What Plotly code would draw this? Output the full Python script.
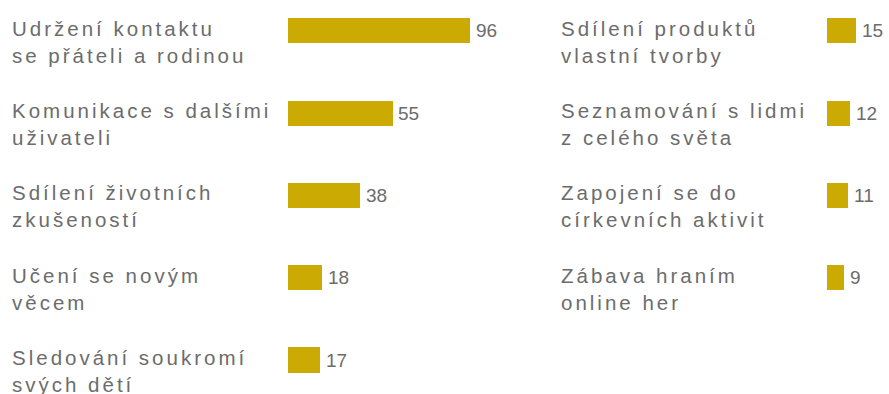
import plotly.graph_objects as go

# Survey answers, left column (top to bottom)
left_labels = [
    "Udržení kontaktu<br>se přáteli a rodinou",
    "Komunikace s dalšími<br>uživateli",
    "Sdílení životních<br>zkušeností",
    "Učení se novým<br>věcem",
    "Sledování soukromí<br>svých dětí",
]
left_values = [96, 55, 38, 18, 17]

# Survey answers, right column (top to bottom)
right_labels = [
    "Sdílení produktů<br>vlastní tvorby",
    "Seznamování s lidmi<br>z celého světa",
    "Zapojení se do<br>církevních aktivit",
    "Zábava hraním<br>online her",
]
right_values = [15, 12, 11, 9]

W, H = 889, 394
BAR_COLOR = "#CBAA04"
LABEL_COLOR = "#6c6c6c"
VALUE_COLOR = "#6c6c6c"
LABEL_FONT = "Liberation Sans, Arial, sans-serif"

left_rows = list(range(len(left_values)))
right_rows = list(range(len(right_values)))

fig = go.Figure()
fig.add_trace(go.Bar(
    x=left_values, y=left_rows, orientation="h",
    marker=dict(color=BAR_COLOR, line=dict(width=0)),
    width=0.305, xaxis="x", yaxis="y", hoverinfo="skip",
))
fig.add_trace(go.Bar(
    x=right_values, y=right_rows, orientation="h",
    marker=dict(color=BAR_COLOR, line=dict(width=0)),
    width=0.305, xaxis="x2", yaxis="y", hoverinfo="skip",
))


def spaced(text):
    return '<span style="letter-spacing:3px">' + text + "</span>"


annotations = []
for labels, values, rows, xpos, xref in (
    (left_labels, left_values, left_rows, 10 / W, "x"),
    (right_labels, right_values, right_rows, 559 / W, "x2"),
):
    for lab, val, r in zip(labels, values, rows):
        annotations.append(dict(
            text=spaced(lab), xref="paper", x=xpos, xanchor="left",
            yref="y", y=r, yanchor="middle", yshift=-11,
            showarrow=False, align="left",
            font=dict(family=LABEL_FONT, size=20.5, color=LABEL_COLOR),
        ))
        annotations.append(dict(
            text=str(val), xref=xref, x=val, xanchor="left", xshift=4,
            yref="y", y=r, yanchor="middle",
            showarrow=False,
            font=dict(family=LABEL_FONT, size=19, color=VALUE_COLOR),
        ))

axis_off = dict(showgrid=False, zeroline=False, showticklabels=False,
                showline=False, ticks="", fixedrange=True)

fig.update_layout(
    width=W, height=H,
    margin=dict(l=0, r=0, t=0, b=0),
    paper_bgcolor="white", plot_bgcolor="white",
    showlegend=False, bargap=0,
    xaxis=dict(domain=[287.5 / W, 477.5 / W], range=[0, 100], anchor="y", **axis_off),
    xaxis2=dict(domain=[827 / W, 884 / W], range=[0, 30], anchor="y", **axis_off),
    yaxis=dict(domain=[0, 1], range=[4.413, -0.374], **axis_off),
    annotations=annotations,
)

fig.write_html("out.html")
